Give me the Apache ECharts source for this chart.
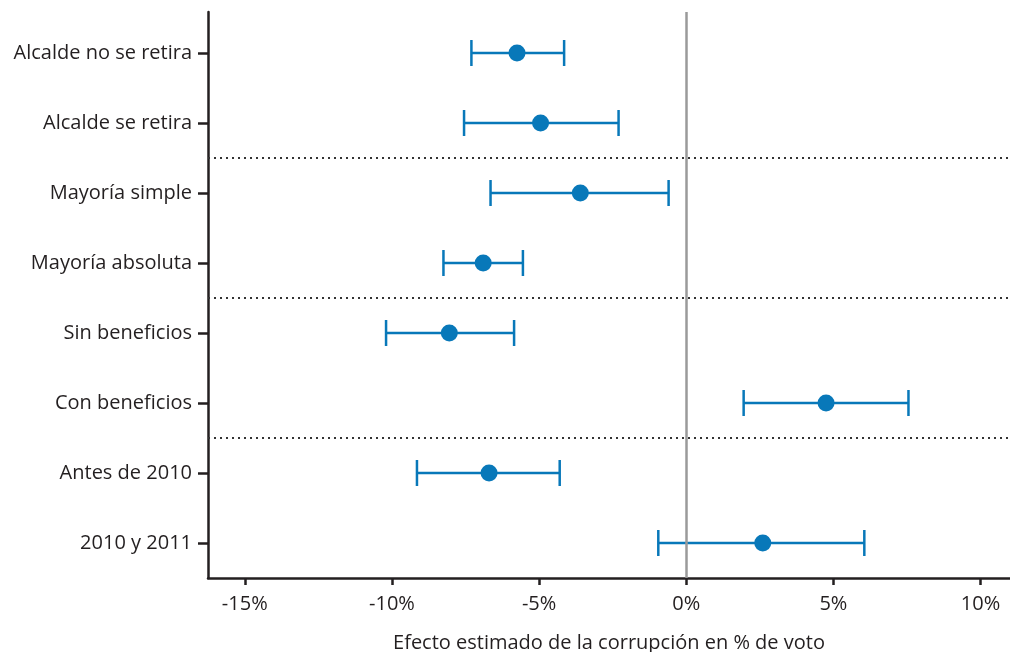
<!DOCTYPE html>
<html>
<head>
<meta charset="utf-8">
<script src="https://cdn.jsdelivr.net/npm/echarts@6/dist/echarts.min.js"></script>
<style>
  html, body { margin: 0; padding: 0; background: #fff; }
  #chart { width: 1010px; height: 652px; }
</style>
</head>
<body>
<div id="chart"></div>
<script>
// Estimated effect of corruption on vote share, by subgroup (percentage points)
const categories = [
  'Alcalde no se retira',
  'Alcalde se retira',
  'Mayoría simple',
  'Mayoría absoluta',
  'Sin beneficios',
  'Con beneficios',
  'Antes de 2010',
  '2010 y 2011'
];
const estimates = [-5.75, -4.95, -3.6, -6.9, -8.05, 4.75, -6.7, 2.6];
const lowerBounds = [-7.3, -7.55, -6.65, -8.25, -10.2, 1.95, -9.15, -0.95];
const upperBounds = [-4.15, -2.3, -0.6, -5.55, -5.85, 7.55, -4.3, 6.05];
// Groups of rows separated by dotted lines (row counts per group)
const groupSizes = [2, 2, 2, 2];
const xTicks = [-15, -10, -5, 0, 5, 10];

const BLUE = '#0878b9';
const INK = '#231f20';
const FONT = '"Open Sans"';
const FONT_SIZE = 20;

const rowIndex = categories.map((_, i) => i);
const separators = [];
let acc = 0;
groupSizes.slice(0, -1).forEach(n => { acc += n; separators.push(acc - 0.5); });

const chart = echarts.init(document.getElementById('chart'), null, { renderer: 'canvas' });

chart.setOption({
  animation: false,
  grid: { left: 208, right: 0, top: 12, bottom: 74, containLabel: false, outerBoundsMode: 'none' },
  xAxis: {
    type: 'value',
    min: -16.25,
    max: 11,
    name: 'Efecto estimado de la corrupción en % de voto',
    nameLocation: 'middle',
    nameGap: 55,
    nameTextStyle: { fontFamily: FONT, fontSize: FONT_SIZE, color: INK },
    axisLine: { show: true, onZero: false, lineStyle: { color: INK, width: 2.5 } },
    axisTick: { show: true, length: 7, customValues: xTicks, lineStyle: { color: INK, width: 2.5 } },
    axisLabel: {
      customValues: xTicks,
      margin: 16,
      fontFamily: FONT, fontSize: FONT_SIZE, color: INK,
      formatter: v => v + '%'
    },
    splitLine: { show: false }
  },
  yAxis: {
    type: 'value',
    inverse: true,
    min: -0.586,
    max: 7.5,
    axisLine: { show: true, onZero: false, lineStyle: { color: INK, width: 2.5 } },
    axisTick: { show: true, length: 10, customValues: rowIndex, lineStyle: { color: INK, width: 2.5 } },
    axisLabel: {
      customValues: rowIndex,
      margin: 16,
      fontFamily: FONT, fontSize: FONT_SIZE, color: INK,
      formatter: v => categories[Math.round(v)]
    },
    splitLine: { show: false }
  },
  series: [
    {
      // group separators and the zero reference line
      type: 'line',
      data: [],
      silent: true,
      markLine: {
        symbol: 'none',
        silent: true,
        label: { show: false },
        data: [
          ...separators.map(y => ({ yAxis: y, lineStyle: { color: '#333', width: 2, type: [2, 4] } })),
          { xAxis: 0, lineStyle: { color: '#9a9a9a', width: 2.5, type: 'solid' } }
        ]
      }
    },
    {
      // confidence intervals with end caps
      type: 'custom',
      data: rowIndex.map(i => [lowerBounds[i], upperBounds[i], i]),
      renderItem: (params, api) => {
        const y = api.value(2);
        const a = api.coord([api.value(0), y]);
        const b = api.coord([api.value(1), y]);
        const h = 13;
        const style = { stroke: BLUE, lineWidth: 2.5 };
        return {
          type: 'group',
          children: [
            { type: 'line', shape: { x1: a[0], y1: a[1], x2: b[0], y2: b[1] }, style },
            { type: 'line', shape: { x1: a[0], y1: a[1] - h, x2: a[0], y2: a[1] + h }, style },
            { type: 'line', shape: { x1: b[0], y1: b[1] - h, x2: b[0], y2: b[1] + h }, style }
          ]
        };
      },
      z: 3
    },
    {
      type: 'scatter',
      data: rowIndex.map(i => [estimates[i], i]),
      symbol: 'circle',
      symbolSize: 17,
      itemStyle: { color: BLUE, opacity: 1 },
      z: 4
    }
  ]
});
</script>
</body>
</html>
